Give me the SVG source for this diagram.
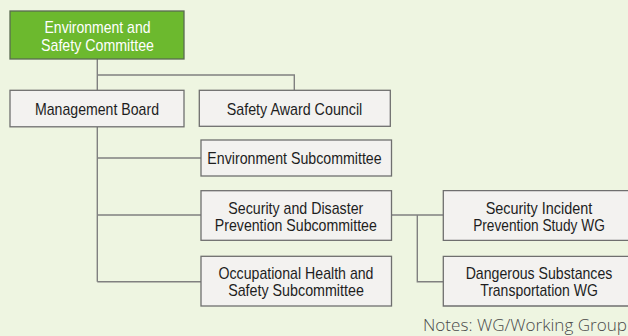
<svg xmlns="http://www.w3.org/2000/svg" width="628" height="336" viewBox="0 0 628 336">
<style>
.bg{fill:#eef5e1}
.box{fill:#f3f2f0;stroke:#6f6f6f;stroke-width:1.3}
.fill{fill:#f3f2f0}
.edge{fill:none;stroke:#6f6f6f;stroke-width:1.3}
.green{fill:#6cb92e;stroke:#5a6a50;stroke-width:1.3}
.t{font-family:"Liberation Sans",Arial,sans-serif;font-size:17px;fill:#1e1e1e;text-anchor:middle}
.w{fill:#ffffff}
.conn{fill:none;stroke:#808080;stroke-width:1.4}
.note{font-family:"Open Sans","Noto Sans",sans-serif;font-weight:300;font-size:16px;fill:#4a4a4a}
</style>
<rect class="bg" x="0" y="0" width="628" height="336"/>
<g id="connectors">
<path class="conn" d="M97.3 59V90M97.3 75H294.3V90M97.3 127V281.7M97.3 158H201M97.3 215H201M97.3 281.7H201M391.5 215H443.3M417.3 215V281.7H443.3"/>
</g>
<g id="esc">
<rect class="green" x="10" y="11" width="174" height="48"/>
<text class="t w" x="97.5" y="33.3" textLength="106" lengthAdjust="spacingAndGlyphs">Environment and</text>
<text class="t w" x="97.5" y="50.5" textLength="113" lengthAdjust="spacingAndGlyphs">Safety Committee</text>
</g>
<g id="mb">
<rect class="box" x="10" y="90.3" width="174" height="36.5"/>
<text class="t" x="97" y="115" textLength="124" lengthAdjust="spacingAndGlyphs">Management Board</text>
</g>
<g id="sac">
<rect class="box" x="199.3" y="90.3" width="191" height="36"/>
<text class="t" x="294.5" y="115" textLength="135.6" lengthAdjust="spacingAndGlyphs">Safety Award Council</text>
</g>
<g id="envsub">
<rect class="box" x="201" y="140" width="190.5" height="36"/>
<text class="t" x="294.5" y="164" textLength="174.3" lengthAdjust="spacingAndGlyphs">Environment Subcommittee</text>
</g>
<g id="secsub">
<rect class="box" x="201" y="190.7" width="190.5" height="49.6"/>
<text class="t" x="295.8" y="214" textLength="135" lengthAdjust="spacingAndGlyphs">Security and Disaster</text>
<text class="t" x="295.8" y="230.7" textLength="162" lengthAdjust="spacingAndGlyphs">Prevention Subcommittee</text>
</g>
<g id="ohs">
<rect class="box" x="201" y="256.3" width="190.5" height="49.7"/>
<text class="t" x="296" y="279" textLength="155" lengthAdjust="spacingAndGlyphs">Occupational Health and</text>
<text class="t" x="296" y="295.7" textLength="135.7" lengthAdjust="spacingAndGlyphs">Safety Subcommittee</text>
</g>
<g id="siwg">
<rect class="fill" x="443.3" y="190.7" width="184.7" height="49.6"/>
<path class="edge" d="M628 190.7H443.3V240.3H628"/>
<text class="t" x="539" y="213.5" textLength="106.7" lengthAdjust="spacingAndGlyphs">Security Incident</text>
<text class="t" x="539" y="230.8" textLength="131.7" lengthAdjust="spacingAndGlyphs">Prevention Study WG</text>
</g>
<g id="dswg">
<rect class="fill" x="443.3" y="256.3" width="184.7" height="49.7"/>
<path class="edge" d="M628 256.3H443.3V306H628"/>
<text class="t" x="539" y="279" textLength="146.7" lengthAdjust="spacingAndGlyphs">Dangerous Substances</text>
<text class="t" x="539" y="296" textLength="117.7" lengthAdjust="spacingAndGlyphs">Transportation WG</text>
</g>
<text class="note" x="423" y="331" textLength="204" lengthAdjust="spacingAndGlyphs">Notes: WG/Working Group</text>
</svg>
